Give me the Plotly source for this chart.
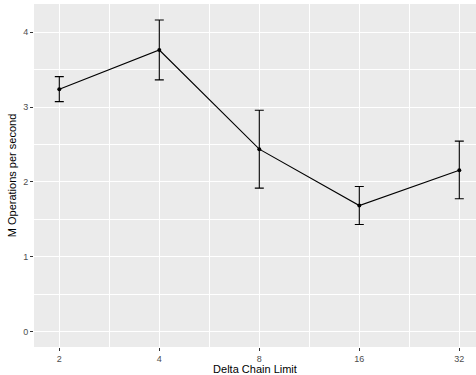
import numpy as np
import plotly.graph_objects as go

limits = [2, 4, 8, 16, 32]
mean_ops = [3.238, 3.763, 2.437, 1.683, 2.156]
upper = [3.407, 4.164, 2.958, 1.937, 2.544]
lower = [3.073, 3.363, 1.916, 1.430, 1.773]
x_ticks = [2, 4, 8, 16, 32]
x_minor = [2 * 2 ** 0.5, 4 * 2 ** 0.5, 8 * 2 ** 0.5, 16 * 2 ** 0.5]
y_ticks = [0, 1, 2, 3, 4]

err_plus = [u - m for u, m in zip(upper, mean_ops)]
err_minus = [m - l for m, l in zip(mean_ops, lower)]

fig = go.Figure()
fig.add_trace(go.Scatter(
    x=limits, y=mean_ops, mode="lines+markers",
    line=dict(color="black", width=1.1),
    marker=dict(color="black", size=4),
    error_y=dict(type="data", symmetric=False, array=err_plus, arrayminus=err_minus,
                 color="black", thickness=1.1, width=4.5),
    showlegend=False,
))

grid_major = "white"
fig.update_layout(
    width=476, height=375,
    margin=dict(l=34, r=0, t=4, b=28),
    paper_bgcolor="white", plot_bgcolor="#EBEBEB",
    font=dict(family="Liberation Sans, Arial, sans-serif"),
)
fig.update_xaxes(
    type="log",
    range=[np.log10(2 ** 0.747), np.log10(2 ** 5.167)],
    tickmode="array", tickvals=x_ticks, ticktext=[str(v) for v in x_ticks],
    showgrid=True, gridcolor=grid_major, gridwidth=1.1,
    minor=dict(tickmode="array", tickvals=x_minor, showgrid=True, gridcolor=grid_major, gridwidth=0.55, ticks=""),
    ticks="outside", ticklen=3, tickcolor="#333333", tickwidth=1,
    tickfont=dict(size=9, color="#4D4D4D"),
    zeroline=False, showline=False,
    title=dict(text="Delta Chain Limit", font=dict(size=11, color="black"), standoff=2),
)
fig.update_yaxes(
    range=[-0.2085, 4.378],
    tickmode="array", tickvals=y_ticks,
    showgrid=True, gridcolor=grid_major, gridwidth=1.1,
    minor=dict(tickmode="array", tickvals=[0.5, 1.5, 2.5, 3.5], showgrid=True, gridcolor=grid_major, gridwidth=0.55, ticks=""),
    ticks="outside", ticklen=3, tickcolor="#333333", tickwidth=1,
    tickfont=dict(size=9, color="#4D4D4D"),
    zeroline=False, showline=False,
    title=dict(text="M Operations per second", font=dict(size=11, color="black"), standoff=4),
)
fig.write_html("out.html")
